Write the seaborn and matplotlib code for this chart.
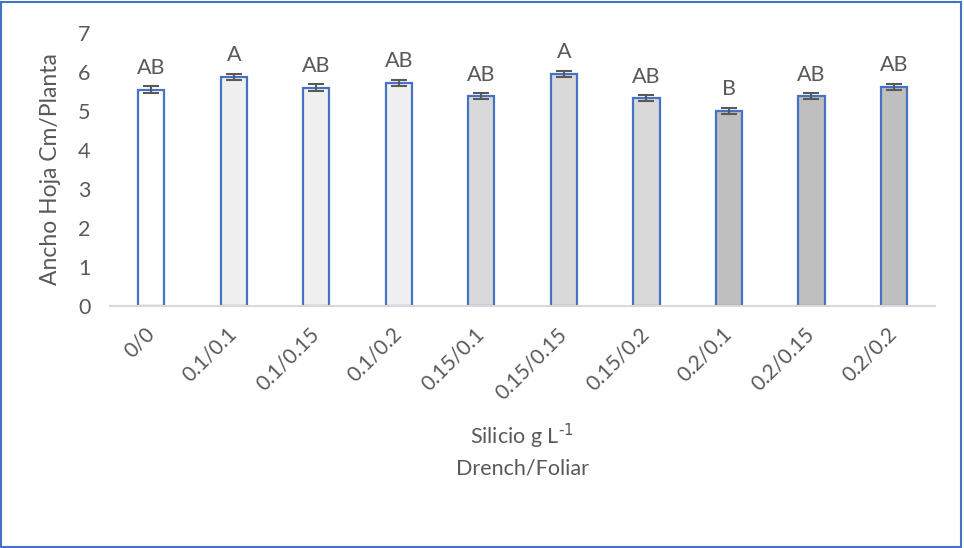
import matplotlib
matplotlib.use("Agg")
import matplotlib.pyplot as plt
from matplotlib.patches import Rectangle
import seaborn as sns
import pandas as pd

# Treatments (drench / foliar silicon dose, g L-1)
treatments = ["0/0", "0.1/0.1", "0.1/0.15", "0.1/0.2", "0.15/0.1",
              "0.15/0.15", "0.15/0.2", "0.2/0.1", "0.2/0.15", "0.2/0.2"]
leaf_width = [5.55, 5.87, 5.60, 5.72, 5.38, 5.95, 5.33, 5.00, 5.38, 5.62]
std_error = [0.08, 0.08, 0.08, 0.08, 0.08, 0.08, 0.08, 0.08, 0.08, 0.08]
groups = ["AB", "A", "AB", "AB", "AB", "A", "AB", "B", "AB", "AB"]
fills = ["#FFFFFF", "#F0F0F0", "#F0F0F0", "#F0F0F0", "#D9D9D9",
         "#D9D9D9", "#D9D9D9", "#BFBFBF", "#BFBFBF", "#BFBFBF"]
y_ticks = [0, 1, 2, 3, 4, 5, 6, 7]

df = pd.DataFrame({"trat": treatments, "ancho": leaf_width,
                   "ee": std_error, "grupo": groups})

sns.set_theme(style="white")
plt.rcParams["font.family"] = ["Lato", "DejaVu Sans"]
text_color = "#595959"

fig = plt.figure(figsize=(9.64, 5.48), dpi=100)
ax = fig.add_axes([0.1141, 0.4416, 0.8559, 0.4982])

sns.barplot(data=df, x="trat", y="ancho", hue="trat", palette=fills,
            legend=False, width=0.32, saturation=1, errorbar=None,
            edgecolor="#4472C4", linewidth=1.6, ax=ax)

xpos = list(range(len(treatments)))
ax.errorbar(xpos, df["ancho"], yerr=df["ee"], fmt="none",
            ecolor="#595959", elinewidth=1.5, capsize=5.5, capthick=1.5)

for x, v, e, g in zip(xpos, df["ancho"], df["ee"], df["grupo"]):
    ax.annotate(g, (x, v + e), xytext=(0, 9), textcoords="offset points",
                ha="center", va="baseline", fontsize=15.5, color=text_color)

ax.set_xlim(-0.5, len(treatments) - 0.5)
ax.set_ylim(0, 7)
ax.set_yticks(y_ticks)
ax.set_yticklabels([str(t) for t in y_ticks], fontsize=15.5, color=text_color)
ax.tick_params(axis="both", length=0)
ax.tick_params(axis="y", pad=14)
ax.tick_params(axis="x", pad=18)
for lab in ax.get_xticklabels():
    lab.set_rotation(45)
    lab.set_ha("right")
    lab.set_va("center")
    lab.set_rotation_mode("anchor")
    lab.set_fontsize(15)
    lab.set_color(text_color)

for side in ["left", "top", "right"]:
    ax.spines[side].set_visible(False)
ax.spines["bottom"].set_color("#D9D9D9")
ax.spines["bottom"].set_linewidth(1.5)

ax.set_ylabel("Ancho Hoja Cm/Planta", fontsize=16.5, color=text_color, labelpad=12)
ax.set_xlabel("")
fig.text(0.5415, 0.203, "Silicio g L$^{\\text{-1}}$", ha="center",
         va="center", fontsize=15.5, color=text_color)
fig.text(0.5415, 0.145, "Drench/Foliar", ha="center", va="center",
         fontsize=15.5, color=text_color)

fig.patches.append(Rectangle((0.0012, 0.0015), 0.996, 0.995,
                             transform=fig.transFigure, fill=False,
                             edgecolor="#4472C4", linewidth=1.5))

fig.savefig("out.png", dpi=100, facecolor="white")
